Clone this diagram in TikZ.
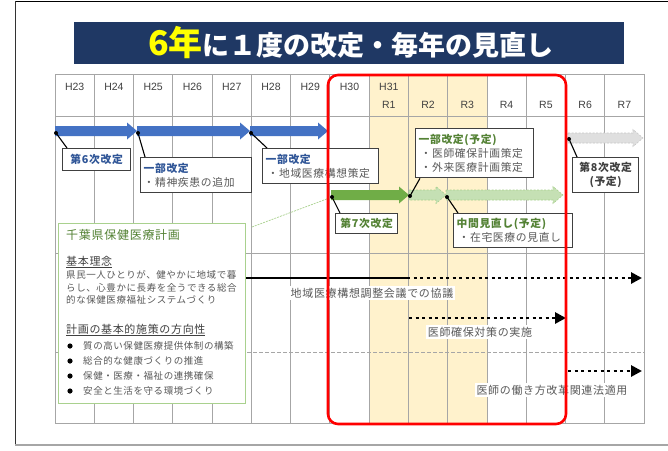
\documentclass[tikz,border=0pt]{standalone}
\usepackage{fontspec}
\setmainfont{Noto Sans CJK JP}
\newfontfamily\jp{Noto Sans CJK JP}[LetterSpace=6]
\newfontfamily\hdfont{Liberation Sans}
\usetikzlibrary{arrows.meta,calc}
\definecolor{navy}{HTML}{1F3864}
\definecolor{titleyel}{HTML}{FFFF00}
\definecolor{shadeY}{HTML}{FFF2CC}
\definecolor{gridG}{HTML}{A6A6A6}
\definecolor{blueA}{HTML}{4472C4}
\definecolor{blueT}{HTML}{2F5597}
\definecolor{greenA}{HTML}{70AD47}
\definecolor{greenL}{HTML}{C5E0B4}
\definecolor{greenD}{HTML}{A9D18E}
\definecolor{greenT}{HTML}{548235}
\definecolor{txtG}{HTML}{595959}
\definecolor{boxB}{HTML}{404040}
\definecolor{redR}{HTML}{FF0000}
\newcommand{\blockarr}[4]{\path[#4] (#1,{#3-5}) -- ({#2-10},{#3-5}) -- ({#2-10},{#3-8.5}) -- (#2,#3) -- ({#2-10},{#3+8.5}) -- ({#2-10},{#3+5}) -- (#1,{#3+5}) -- cycle;}
\begin{document}
\begin{tikzpicture}[x=1pt,y=-1pt,
  gridln/.style={draw=gridG, line width=0.8pt},
  hdr/.style={font=\hdfont\fontsize{10.5}{12}\selectfont, text=boxB, inner sep=0pt},
  cbox/.style={draw=boxB, line width=1.3pt, fill=white, anchor=north west, inner sep=3pt, font=\jp\fontsize{10.8}{14}\selectfont, text=txtG},
  cl/.style={draw=black, line width=1.1pt},
  dotarr/.style={line width=2.8pt, dash pattern=on 3pt off 3.5pt, -{Triangle[length=11pt,width=11pt]}},
  tlab/.style={fill=white, inner sep=1.5pt, text=txtG, font=\jp\fontsize{11}{13}\selectfont},
  gtxt/.style={anchor=west, inner sep=0pt, text=txtG, font=\jp\fontsize{9.5}{12}\selectfont},
  ghead/.style={anchor=west, inner sep=0pt, text=boxB, font=\jp\fontsize{11}{13}\selectfont}]
\useasboundingbox (0,0) rectangle (668,450);
\fill[white] (0,0) rectangle (668,450);
% frame
\draw[black, line width=1pt] (15,1.5) -- (668,1.5);
\draw[black!80, line width=1pt] (15.5,1) -- (15.5,445);
\draw[gray!70, line width=2.5pt] (15,445) -- (668,445);
% title banner
\node[fill=navy, minimum width=550pt, minimum height=42pt, anchor=north west, inner sep=0pt] (banner) at (74,22) {};
\node[text=white, font=\bfseries\fontsize{27}{30}\selectfont, inner sep=0pt] (title) at (351,43) {\textcolor{titleyel}{\fontsize{34}{36}\selectfont 6年}に１度の改定・毎年の見直し};
% shaded columns
\fill[shadeY] (369.16,74) rectangle (486.97,423);
% grid
\foreach \i in {1,...,14} \draw[gridln] ({55+\i*39.27},74) -- ({55+\i*39.27},423);
\draw[gridln] (55,74) rectangle (644,423);
\draw[gridln] (55,116) -- (644,116);
\draw[gridln] (55,253) -- (644,253);
\draw[gridln, dash pattern=on 4pt off 2pt] (55,352) -- (644,352);
% header labels
\foreach \i/\t in {0/H23,1/H24,2/H25,3/H26,4/H27,5/H28,6/H29,7/H30,8/H31}
  \node[hdr] (hh\i) at ({55+(\i+0.5)*39.27},87) {\t};
\foreach \i/\t in {8/R1,9/R2,10/R3,11/R4,12/R5,13/R6,14/R7}
  \node[hdr] (hr\i) at ({55+(\i+0.5)*39.27},105) {\t};
% block arrows
\blockarr{55}{137}{131}{fill=blueA}
\blockarr{137}{250}{131}{fill=blueA}
\blockarr{250}{328}{131}{fill=blueA}
\blockarr{331}{409}{195}{fill=greenA}
\blockarr{409}{446}{195}{fill=greenL, draw=greenD, dash pattern=on 2pt off 1.5pt, line width=0.6pt}
\blockarr{446}{563}{195}{fill=greenL, draw=greenD, dash pattern=on 2pt off 1.5pt, line width=0.6pt}
\blockarr{568}{643}{138}{fill=gray!25, draw=gray!45, dash pattern=on 2pt off 1.5pt, line width=0.6pt}
% timelines
\coordinate (t1s) at (245,278);
\coordinate (t1m) at (407,278);
\coordinate (t1e) at (642,278);
\draw[line width=2.4pt] (t1s) -- (t1m);
\draw[dotarr] (t1m) -- (t1e);
\node[tlab] (l1) at (372,293) {地域医療構想調整会議での協議};
\coordinate (t2s) at (409,318);
\coordinate (t2e) at (566,318);
\draw[dotarr] (t2s) -- (t2e);
\node[tlab] (l2) at (480,332) {医師確保対策の実施};
\coordinate (t3s) at (568,371);
\coordinate (t3e) at (642,371);
\draw[dotarr] (t3s) -- (t3e);
\node[tlab] (l3) at (552,390) {医師の働き方改革関連法適用};
% green plan box
\coordinate (c5) at (332,197);
\node[draw=greenD, line width=0.9pt, fill=white, anchor=north west, minimum width=187pt, minimum height=180pt, inner sep=0pt] (gb) at (58,223) {};
\draw[greenD, line width=0.7pt, dash pattern=on 2pt off 1pt] ($(gb.north east)+(6,4)$) -- (c5);
\node[anchor=west, inner sep=0pt, text=greenT, font=\jp\fontsize{12}{14}\selectfont] (gt) at (66,235) {千葉県保健医療計画};
\node[ghead] (gh1) at (66,262) {\underline{基本理念}};
\node[gtxt] (gl1) at (66,275) {県民一人ひとりが、健やかに地域で暮};
\node[gtxt] (gl2) at (66,288) {らし、心豊かに長寿を全うできる総合};
\node[gtxt] (gl3) at (66,300) {的な保健医療福祉システムづくり};
\node[ghead] (gh2) at (66,330) {\underline{計画の基本的施策の方向性}};
\foreach \k/\yy/\t in {1/346/質の高い保健医療提供体制の構築,2/361/総合的な健康づくりの推進,3/376/保健・医療・福祉の連携確保,4/391/安全と生活を守る環境づくり}{
  \fill[black] (70,\yy) circle (2.6);
  \node[gtxt] (gb\k) at (83,\yy) {\t};
}
% callouts
\coordinate (c1) at (56,133);
\coordinate (c2) at (138,133);
\coordinate (c3) at (251,133);
\coordinate (c4) at (410,196);
\coordinate (c6) at (447,197);
\coordinate (c7) at (569,139);
\node[cbox, minimum width=68pt, minimum height=22pt, text width=62pt, align=center] (b1) at (62,148) {\textcolor{blueT}{\bfseries 第6次改定}};
\node[cbox, minimum width=111pt, minimum height=35pt, text width=105pt, align=left] (b2) at (140,157) {\textcolor{blueT}{\bfseries 一部改定}\\・精神疾患の追加};
\node[cbox, minimum width=116pt, minimum height=35pt, text width=110pt, align=left] (b3) at (262,148) {\textcolor{blueT}{\bfseries 一部改定}\\\hspace*{2pt}・地域医療構想策定};
\node[cbox, minimum width=118pt, minimum height=49pt, text width=112pt, align=left] (b4) at (415,128) {\textcolor{greenT}{\bfseries 一部改定(予定)}\\\hspace*{2pt}・医師確保計画策定\\\hspace*{2pt}・外来医療計画策定};
\node[cbox, minimum width=62pt, minimum height=20pt, text width=56pt, align=center] (b5) at (335,213) {\textcolor{greenT}{\bfseries 第7次改定}};
\node[cbox, minimum width=119pt, minimum height=34pt, text width=113pt, align=left] (b6) at (453,213) {\textcolor{greenT}{\bfseries 中間見直し(予定)}\\\hspace*{2pt}・在宅医療の見直し};
\node[cbox, minimum width=66pt, minimum height=35pt, text width=60pt, align=center] (b7) at (572,157) {\textcolor{boxB}{\bfseries 第8次改定}\\\textcolor{boxB}{\bfseries (予定)}};
\foreach \c/\b in {c1/b1,c2/b2,c3/b3,c5/b5,c6/b6,c7/b7}{
  \draw[cl] (\c) -- ($(\b.north west)+(5,0)$);
  \fill[black] (\c) circle (2);
}
\draw[cl] (c4) -- ($(b4.south west)+(5,0)$);
\fill[black] (c4) circle (2);
% red frame
\draw[redR, line width=2.6pt, rounded corners=10pt] (328,75) rectangle (566,424);
\end{tikzpicture}
\end{document}
